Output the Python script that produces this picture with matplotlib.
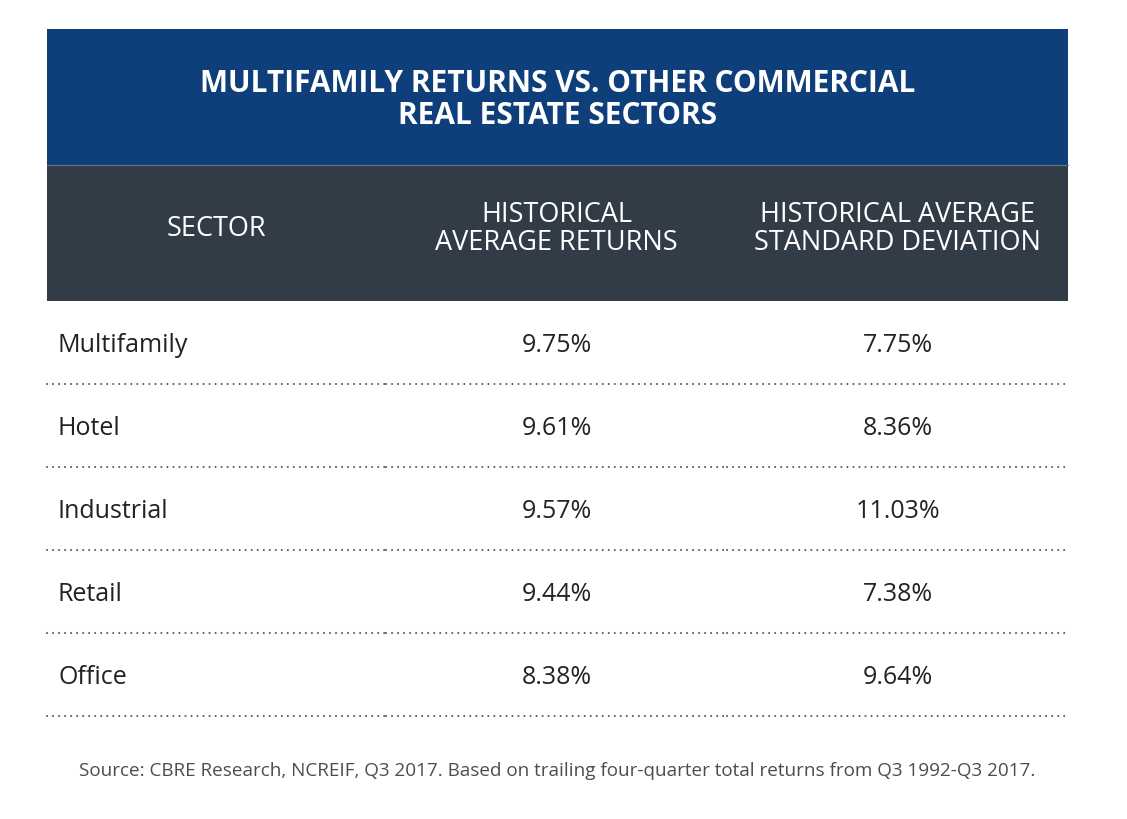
import matplotlib.pyplot as plt
from matplotlib.patches import Rectangle

# Table content
title_lines = ['MULTIFAMILY RETURNS VS. OTHER COMMERCIAL', 'REAL ESTATE SECTORS']
headers = ['SECTOR', 'HISTORICAL\nAVERAGE RETURNS', 'HISTORICAL AVERAGE\nSTANDARD DEVIATION']
sectors = ['Multifamily', 'Hotel', 'Industrial', 'Retail', 'Office']
avg_returns = [9.75, 9.61, 9.57, 9.44, 8.38]
std_devs = [7.75, 8.36, 11.03, 7.38, 9.64]
source = ('Source: CBRE Research, NCREIF, Q3 2017. Based on trailing four-quarter '
          'total returns from Q3 1992-Q3 2017.')

BLUE = '#0F3F7B'
SLATE = '#323C47'
TEXT = '#222222'
DOTS = '#555A62'
FONT = 'Open Sans'

W, H = 1127, 820
fig = plt.figure(figsize=(W / 100, H / 100), dpi=100)
ax = fig.add_axes([0, 0, 1, 1])
ax.set_xlim(0, W)
ax.set_ylim(H, 0)
ax.axis('off')

left, right = 47, 1068
col_edges = [47, 386, 727, 1068]
title_top, header_top, body_top = 30, 166, 302
row_h = 83

# Title band
ax.add_patch(Rectangle((left, title_top), right - left, header_top - title_top,
                       facecolor=BLUE, edgecolor='none'))
ax.text((left + right) / 2, 100, '\n'.join(title_lines), ha='center', va='center',
        color='white', fontsize=21.5, fontweight='bold', family=FONT, linespacing=1.08)

# Header band
ax.add_patch(Rectangle((left, header_top), right - left, body_top - header_top,
                       facecolor=SLATE, edgecolor='none'))
ax.plot([left, right], [header_top, header_top], color='#6B7480', lw=0.8)
for i, h in enumerate(headers):
    cx = (col_edges[i] + col_edges[i + 1]) / 2
    ax.text(cx, 229, h, ha='center', va='center', color='white', fontsize=19.5,
            family=FONT, linespacing=1.0)

# Body rows
for r, name in enumerate(sectors):
    cy = body_top + row_h * r + 44
    ax.text(58, cy, name, ha='left', va='center', color=TEXT, fontsize=18, family=FONT)
    for c, val in enumerate([avg_returns[r], std_devs[r]]):
        cx = (col_edges[c + 1] + col_edges[c + 2]) / 2
        ax.text(cx, cy, f'{val:.2f}%', ha='center', va='center', color=TEXT,
                fontsize=18, family=FONT)
    ly = body_top + row_h * (r + 1)
    for c in range(3):
        ax.plot([col_edges[c], col_edges[c + 1]], [ly, ly], color=DOTS, lw=1.5,
                linestyle=(0, (0.01, 2.88)), dash_capstyle='round')

ax.text((left + right) / 2, 771, source, ha='center', va='center', color='#4D4D4D',
        fontsize=13.6, family=FONT)

fig.savefig('out.png', dpi=100)
